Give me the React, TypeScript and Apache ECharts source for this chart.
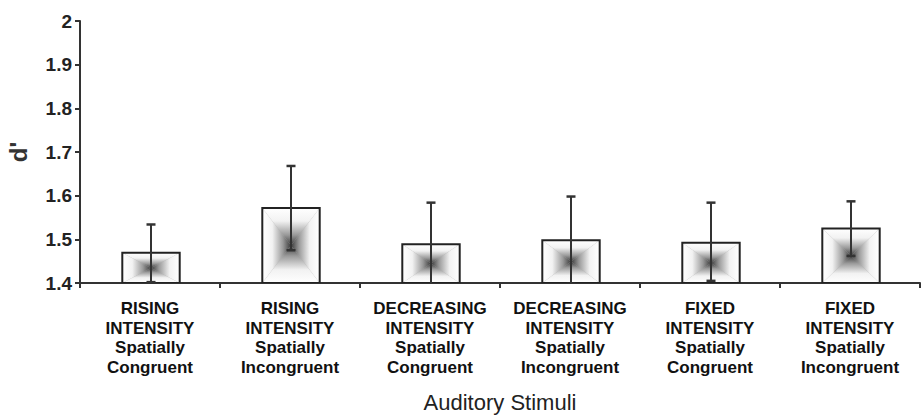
import React, { useEffect, useRef } from "react";
import * as echarts from "echarts";

const categories = [
  "RISING\nINTENSITY\nSpatially\nCongruent",
  "RISING\nINTENSITY\nSpatially\nIncongruent",
  "DECREASING\nINTENSITY\nSpatially\nCongruent",
  "DECREASING\nINTENSITY\nSpatially\nIncongruent",
  "FIXED\nINTENSITY\nSpatially\nCongruent",
  "FIXED\nINTENSITY\nSpatially\nIncongruent",
];
const means = [1.469, 1.572, 1.489, 1.498, 1.492, 1.525];
const errUpper = [1.534, 1.668, 1.584, 1.598, 1.584, 1.587];
const errLower = [1.402, 1.475, 1.394, 1.398, 1.405, 1.462];
const yTicks = { min: 1.4, max: 2, interval: 0.1 };

const FONT = "Liberation Sans, Arial, sans-serif";

const stops = (reverse: boolean) => {
  const s = [
    { offset: 0, color: "#ffffff" },
    { offset: 0.35, color: "#f2f2f2" },
    { offset: 0.72, color: "#9a9a9a" },
    { offset: 1, color: "#3a3a3a" },
  ];
  return reverse ? s.map((c) => ({ offset: 1 - c.offset, color: c.color })).reverse() : s;
};

const grad = (vertical: boolean, reverse: boolean) => ({
  type: "linear",
  x: 0,
  y: 0,
  x2: vertical ? 0 : 1,
  y2: vertical ? 1 : 0,
  colorStops: stops(reverse),
  global: false,
});

export default function App() {
  const ref = useRef<HTMLDivElement>(null);
  useEffect(() => {
    if (!ref.current) return;
    const chart = echarts.init(ref.current, undefined, { renderer: "svg" });
    const data = categories.map((_, i) => [i, means[i], errUpper[i], errLower[i]]);
    chart.setOption({
      animation: false,
      backgroundColor: "#ffffff",
      grid: { left: 80, right: 1, top: 21, bottom: 132, containLabel: false, outerBoundsMode: "none" },
      xAxis: {
        type: "category",
        data: categories,
        name: "Auditory Stimuli",
        nameLocation: "middle",
        nameGap: 108,
        nameTextStyle: { fontFamily: FONT, fontSize: 22, color: "#222" },
        axisLine: { lineStyle: { color: "#333", width: 2 } },
        axisTick: { show: true, length: 5, lineStyle: { color: "#333", width: 2 } },
        axisLabel: {
          interval: 0,
          margin: 16,
          fontFamily: FONT,
          fontSize: 17,
          fontWeight: "bold",
          lineHeight: 19.5,
          color: "#111",
        },
      },
      yAxis: {
        type: "value",
        min: yTicks.min,
        max: yTicks.max,
        interval: yTicks.interval,
        name: "d'",
        nameLocation: "middle",
        nameRotate: 90,
        nameGap: 50,
        nameTextStyle: { fontFamily: FONT, fontSize: 24, fontWeight: "bold", color: "#333" },
        axisLine: { show: true, lineStyle: { color: "#333", width: 2 } },
        axisTick: { show: true, length: 5, lineStyle: { color: "#333", width: 2 } },
        splitLine: { show: false },
        axisLabel: {
          margin: 8,
          fontFamily: FONT,
          fontSize: 19,
          fontWeight: "bold",
          color: "#222",
          formatter: (v: number) => String(+v.toFixed(1)),
        },
      },
      series: [
        {
          type: "custom",
          clip: true,
          data,
          renderItem: (params: any, api: any) => {
            const idx = api.value(0);
            const val = api.value(1);
            const up = api.value(2);
            const lo = api.value(3);
            const top = api.coord([idx, val]);
            const base = api.coord([idx, yTicks.min]);
            const bw = api.size([1, 0])[0] * 0.41;
            const cx = top[0] + 1;
            const x0 = cx - bw / 2;
            const x1 = cx + bw / 2;
            const y0 = top[1];
            const y1 = base[1];
            const cy = (y0 + y1) / 2;
            const pu = api.coord([idx, up]);
            const pl = api.coord([idx, lo]);
            const capW = 4.5;
            return {
              type: "group",
              children: [
                { type: "rect", shape: { x: x0, y: y0, width: bw, height: y1 - y0 }, style: { fill: "#b0b0b0" } },
                { type: "polygon", shape: { points: [[x0, y0], [x1, y0], [cx, cy]] }, style: { fill: grad(true, false) } },
                { type: "polygon", shape: { points: [[x0, y1], [x1, y1], [cx, cy]] }, style: { fill: grad(true, true) } },
                { type: "polygon", shape: { points: [[x0, y0], [x0, y1], [cx, cy]] }, style: { fill: grad(false, false) } },
                { type: "polygon", shape: { points: [[x1, y0], [x1, y1], [cx, cy]] }, style: { fill: grad(false, true) } },
                {
                  type: "rect",
                  shape: { x: x0, y: y0, width: bw, height: y1 - y0 },
                  style: { fill: "none", stroke: "#222", lineWidth: 2 },
                },
                {
                  type: "line",
                  shape: { x1: cx, y1: pu[1], x2: cx, y2: pl[1] },
                  style: { stroke: "#333", lineWidth: 2 },
                },
                {
                  type: "line",
                  shape: { x1: cx - capW, y1: pu[1], x2: cx + capW, y2: pu[1] },
                  style: { stroke: "#333", lineWidth: 2.5 },
                },
                {
                  type: "line",
                  shape: { x1: cx - capW, y1: pl[1], x2: cx + capW, y2: pl[1] },
                  style: { stroke: "#333", lineWidth: 2.5 },
                },
              ],
            };
          },
        },
      ],
    });
    return () => chart.dispose();
  }, []);
  return (
    <div
      ref={ref}
      style={{ position: "fixed", left: 0, top: 0, width: 921, height: 415, background: "#fff" }}
    />
  );
}
